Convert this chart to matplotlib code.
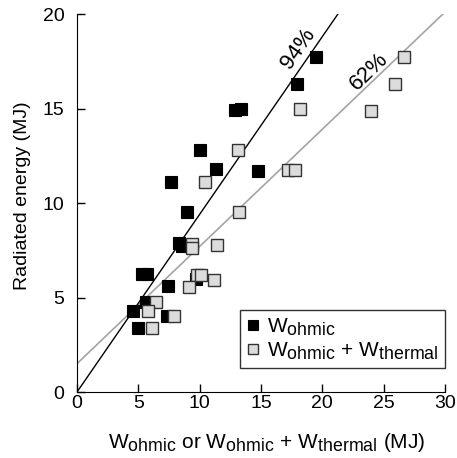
import numpy as np
import matplotlib
matplotlib.use('Agg')
import matplotlib.pyplot as plt
import matplotlib._mathtext as mathtext_internals

# subscripts in the original are only slightly smaller than the base text
mathtext_internals.SHRINK_FACTOR = 0.85

plt.rcParams['font.family'] = ['Liberation Sans', 'DejaVu Sans']
plt.rcParams['mathtext.fontset'] = 'custom'
plt.rcParams['mathtext.rm'] = 'Liberation Sans'
plt.rcParams['mathtext.it'] = 'Liberation Sans'

# W_ohmic vs radiated energy (MJ)
ohm_x = [19.5, 17.9, 12.9, 13.4, 10.0, 11.3, 14.8, 7.7, 9.0, 8.3, 8.6,
         5.3, 5.7, 7.4, 9.7, 5.6, 4.6, 7.3, 5.0]
ohm_y = [17.7, 16.3, 14.9, 15.0, 12.8, 11.8, 11.7, 11.1, 9.5, 7.9, 7.7,
         6.25, 6.25, 5.6, 6.0, 4.75, 4.3, 4.0, 3.4]

# W_ohmic + W_thermal vs radiated energy (MJ)
tot_x = [26.7, 25.9, 24.0, 18.2, 13.1, 10.4, 17.2, 17.8, 13.2, 11.4, 9.4,
         9.4, 9.8, 10.1, 9.1, 11.2, 6.45, 5.8, 7.9, 6.15]
tot_y = [17.7, 16.3, 14.85, 15.0, 12.8, 11.1, 11.75, 11.75, 9.5, 7.8, 7.85,
         7.6, 6.2, 6.2, 5.55, 5.9, 4.75, 4.3, 4.0, 3.4]

# fitted lines (slope, intercept)
fit_ohm = (0.94, 0.0)
fit_tot = (0.62, 1.5)

fig = plt.figure(figsize=(4.57, 4.58), dpi=100)
ax = fig.add_axes([0.1685, 0.1441, 0.805, 0.8253])

xa = np.array([0, 20 / fit_ohm[0]])
ax.plot(xa, fit_ohm[0] * xa + fit_ohm[1], color='black', lw=1.0, zorder=2)
xb = np.array([0, 30])
ax.plot(xb, fit_tot[0] * xb + fit_tot[1], color='#a4a4a4', lw=1.2, zorder=1)

ax.plot(ohm_x, ohm_y, 's', ms=8.5, mfc='black', mec='black', mew=0.8,
        ls='none', label=r'W$_{\mathrm{ohmic}}$', zorder=3)
ax.plot(tot_x, tot_y, 's', ms=8.5, mfc='#dcdcdc', mec='#333333', mew=1.0,
        ls='none', label=r'W$_{\mathrm{ohmic}}$ + W$_{\mathrm{thermal}}$', zorder=4)

ax.text(18.0, 18.15, '94%', rotation=55, ha='center', va='center', fontsize=16)
ax.text(23.8, 16.95, '62%', rotation=44, ha='center', va='center', fontsize=16)

ax.set_xlim(0, 30)
ax.set_ylim(0, 20)
ax.set_xticks([0, 5, 10, 15, 20, 25, 30])
ax.set_yticks([0, 5, 10, 15, 20])
ax.spines['top'].set_visible(False)
ax.spines['right'].set_visible(False)
ax.tick_params(axis='both', direction='in', length=6, width=1, labelsize=14)
ax.tick_params(axis='x', pad=2)
ax.tick_params(axis='y', pad=9)

ax.set_xlabel(r'W$_{\mathrm{ohmic}}$ or W$_{\mathrm{ohmic}}$ + W$_{\mathrm{thermal}}$ (MJ)',
              fontsize=15)
ax.xaxis.set_label_coords(0.517, -0.103)
ax.set_ylabel('Radiated energy (MJ)', fontsize=14)
ax.yaxis.set_label_coords(-0.125, 0.519)

leg = ax.legend(loc='lower right', bbox_to_anchor=(1.0, 0.063), fontsize=15,
                frameon=True, fancybox=False, edgecolor='black', markerscale=0.8,
                handlelength=0.6, handletextpad=0.4, borderpad=0.3, labelspacing=0.15,
                borderaxespad=0)
leg.get_frame().set_linewidth(1.0)

fig.savefig('out.png', dpi=100)
